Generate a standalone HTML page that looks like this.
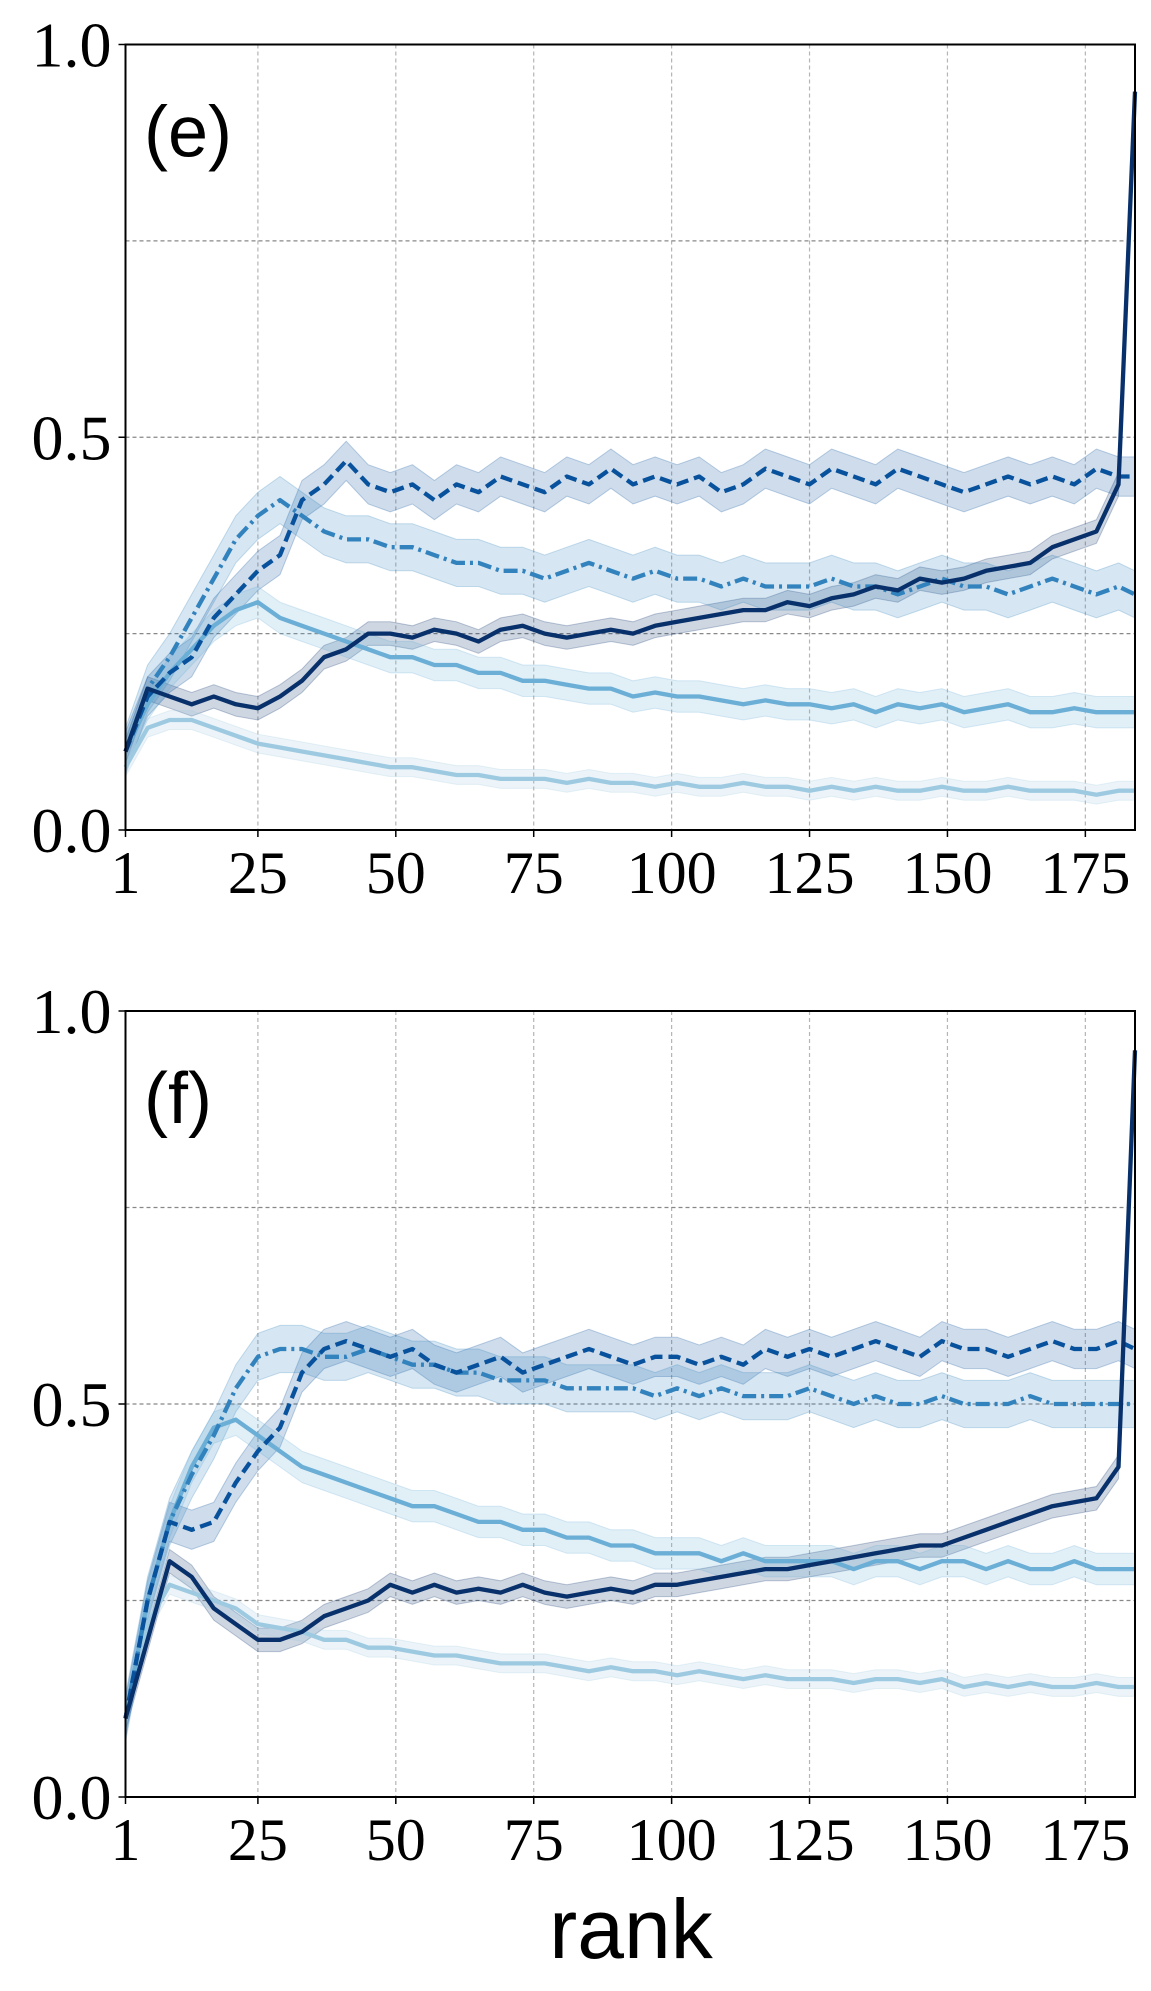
<!DOCTYPE html>
<html><head><meta charset="utf-8">
<style>
html,body{margin:0;padding:0;background:#fff;}
svg{display:block;}
</style></head>
<body>
<svg id="chart" width="1151" height="1991" viewBox="0 0 1151 1991" xmlns="http://www.w3.org/2000/svg"></svg>
<script>
const ranks = [1,5,9,13,17,21,25,29,33,37,41,45,49,53,57,61,65,69,73,77,81,85,89,93,97,101,105,109,113,117,121,125,129,133,137,141,145,149,153,157,161,165,169,173,177,181,184];
const xTicks = [1,25,50,75,100,125,150,175];
const yTicks = [0,0.5,1];
const yTickLabels = ["0.0","0.5","1.0"];
const yGrid = [0.25,0.5,0.75];

const eS1 = [0.10,0.18,0.17,0.16,0.17,0.16,0.155,0.17,0.19,0.22,0.23,0.25,0.25,0.245,0.255,0.25,0.24,0.255,0.26,0.25,0.245,0.25,0.255,0.25,0.26,0.265,0.27,0.275,0.28,0.28,0.29,0.285,0.295,0.30,0.31,0.305,0.32,0.315,0.32,0.33,0.335,0.34,0.36,0.37,0.38,0.44,0.94];
const eS2 = [0.10,0.17,0.20,0.22,0.27,0.30,0.33,0.35,0.42,0.44,0.47,0.44,0.43,0.44,0.42,0.44,0.43,0.45,0.44,0.43,0.45,0.44,0.46,0.44,0.45,0.44,0.45,0.43,0.44,0.46,0.45,0.44,0.46,0.45,0.44,0.46,0.45,0.44,0.43,0.44,0.45,0.44,0.45,0.44,0.46,0.45,0.45];
const eS3 = [0.10,0.18,0.22,0.27,0.32,0.37,0.40,0.42,0.40,0.38,0.37,0.37,0.36,0.36,0.35,0.34,0.34,0.33,0.33,0.32,0.33,0.34,0.33,0.32,0.33,0.32,0.32,0.31,0.32,0.31,0.31,0.31,0.32,0.31,0.31,0.30,0.31,0.32,0.31,0.31,0.30,0.31,0.32,0.31,0.30,0.31,0.30];
const eS4 = [0.10,0.16,0.20,0.23,0.26,0.28,0.29,0.27,0.26,0.25,0.24,0.23,0.22,0.22,0.21,0.21,0.20,0.20,0.19,0.19,0.185,0.18,0.18,0.17,0.175,0.17,0.17,0.165,0.16,0.165,0.16,0.16,0.155,0.16,0.15,0.16,0.155,0.16,0.15,0.155,0.16,0.15,0.15,0.155,0.15,0.15,0.15];
const eS5 = [0.08,0.13,0.14,0.14,0.13,0.12,0.11,0.105,0.10,0.095,0.09,0.085,0.08,0.08,0.075,0.07,0.07,0.065,0.065,0.065,0.06,0.065,0.06,0.06,0.055,0.06,0.055,0.055,0.06,0.055,0.055,0.05,0.055,0.05,0.055,0.05,0.05,0.055,0.05,0.05,0.055,0.05,0.05,0.05,0.045,0.05,0.05];

const fS1 = [0.10,0.20,0.30,0.28,0.24,0.22,0.20,0.20,0.21,0.23,0.24,0.25,0.27,0.26,0.27,0.26,0.265,0.26,0.27,0.26,0.255,0.26,0.265,0.26,0.27,0.27,0.275,0.28,0.285,0.29,0.29,0.295,0.30,0.305,0.31,0.315,0.32,0.32,0.33,0.34,0.35,0.36,0.37,0.375,0.38,0.42,0.95];
const fS2 = [0.10,0.25,0.35,0.34,0.35,0.40,0.44,0.47,0.54,0.57,0.58,0.57,0.56,0.57,0.55,0.54,0.55,0.56,0.54,0.55,0.56,0.57,0.56,0.55,0.56,0.56,0.55,0.56,0.55,0.57,0.56,0.57,0.56,0.57,0.58,0.57,0.56,0.58,0.57,0.57,0.56,0.57,0.58,0.57,0.57,0.58,0.57];
const fS3 = [0.10,0.25,0.35,0.41,0.46,0.52,0.56,0.57,0.57,0.56,0.56,0.57,0.56,0.55,0.55,0.54,0.54,0.53,0.53,0.53,0.52,0.52,0.52,0.52,0.51,0.52,0.51,0.52,0.51,0.51,0.51,0.52,0.51,0.50,0.51,0.50,0.50,0.51,0.50,0.50,0.50,0.51,0.50,0.50,0.50,0.50,0.50];
const fS4 = [0.10,0.25,0.35,0.42,0.47,0.48,0.46,0.44,0.42,0.41,0.40,0.39,0.38,0.37,0.37,0.36,0.35,0.35,0.34,0.34,0.33,0.33,0.32,0.32,0.31,0.31,0.31,0.30,0.31,0.30,0.30,0.30,0.30,0.29,0.30,0.30,0.29,0.30,0.30,0.29,0.30,0.29,0.29,0.30,0.29,0.29,0.29];
const fS5 = [0.10,0.22,0.27,0.26,0.25,0.24,0.22,0.215,0.21,0.20,0.20,0.19,0.19,0.185,0.18,0.18,0.175,0.17,0.17,0.17,0.165,0.16,0.165,0.16,0.16,0.155,0.16,0.155,0.15,0.155,0.15,0.15,0.15,0.145,0.15,0.15,0.145,0.15,0.14,0.145,0.14,0.145,0.14,0.14,0.145,0.14,0.14];

const spreads = [0.015,0.025,0.03,0.02,0.012];

const NS = "http://www.w3.org/2000/svg";
const svg = document.getElementById('chart');
const colors = ["#08306b","#08519c","#3182bd","#6baed6","#9ecae1"];
const dashes = [null,"12,6","14,5,3,5",null,null];
const L = 125.5, R = 1135;

function mk(tag, attrs, parent){
  const el = document.createElementNS(NS, tag);
  for (const k in attrs) el.setAttribute(k, attrs[k]);
  (parent||svg).appendChild(el);
  return el;
}

function drawPanel(top, bottom, series, label, key){
  const g = mk('g', {});
  
  
  const xs = r => L + (r - 1) / (184 - 1) * (R - L);
  const ys = v => bottom - v * (bottom - top);
  xTicks.slice(1).forEach(t => {
    const ln = mk('line', {x1: xs(t), x2: xs(t), y1: top, y2: bottom, stroke: '#b5b5b5', 'stroke-width': 1.2, 'stroke-dasharray': '4,3'}, g);
    
    
  });
  yGrid.forEach(t => {
    const ln = mk('line', {x1: L, x2: R, y1: ys(t), y2: ys(t), stroke: '#888', 'stroke-width': 1.2, 'stroke-dasharray': '4,3'}, g);
    
    
  });
  series.forEach((s, i) => {
    let d = '';
    s.forEach((v, j) => { d += (j ? 'L' : 'M') + xs(ranks[j]).toFixed(1) + ',' + ys(Math.min(1, v + spreads[i])).toFixed(1); });
    for (let j = s.length - 1; j >= 0; j--) d += 'L' + xs(ranks[j]).toFixed(1) + ',' + ys(Math.max(0, s[j] - spreads[i])).toFixed(1);
    const p = mk('path', {d: d + 'Z', fill: colors[i], 'fill-opacity': 0.2, stroke: colors[i], 'stroke-opacity': 0.25, 'stroke-width': 1}, g);
    
    
  });
  for (let i = series.length - 1; i >= 0; i--) {
    const s = series[i];
    let d = '';
    s.forEach((v, j) => { d += (j ? 'L' : 'M') + xs(ranks[j]).toFixed(1) + ',' + ys(v).toFixed(1); });
    const attrs = {d: d, fill: 'none', stroke: colors[i], 'stroke-width': 4.3, 'stroke-linejoin': 'round'};
    if (dashes[i]) attrs['stroke-dasharray'] = dashes[i];
    const p = mk('path', attrs, g);
    
    
  }
  const fr = mk('rect', {x: L, y: top, width: R - L, height: bottom - top, fill: 'none', stroke: '#000', 'stroke-width': 2}, g);
  
  
  xTicks.forEach(t => {
    mk('line', {x1: xs(t), x2: xs(t), y1: bottom, y2: bottom + 7, stroke: '#000', 'stroke-width': 1.5}, g);
    const tx = mk('text', {x: xs(t), y: bottom + 63, 'text-anchor': 'middle', 'font-family': 'Liberation Serif, serif', 'font-size': 60, fill: '#000'}, g);
    tx.textContent = t;
    
    
  });
  yTicks.forEach((t, i) => {
    mk('line', {x1: L - 7, x2: L, y1: ys(t), y2: ys(t), stroke: '#000', 'stroke-width': 1.5}, g);
    const tx = mk('text', {x: L - 14, y: ys(t) + 22, 'text-anchor': 'end', 'font-family': 'Liberation Serif, serif', 'font-size': 64, fill: '#000'}, g);
    tx.textContent = yTickLabels[i];
    
    
  });
  const lb = mk('text', {x: 144, y: top + 112, 'font-family': 'Liberation Sans, sans-serif', 'font-size': 72, fill: '#000'}, g);
  lb.textContent = label;
  
  
}

drawPanel(44.5, 830, [eS1, eS2, eS3, eS4, eS5], '(e)', 'e');
drawPanel(1011, 1797, [fS1, fS2, fS3, fS4, fS5], '(f)', 'f');

const xl = mk('text', {x: 631, y: 1958, 'text-anchor': 'middle', 'font-family': 'Liberation Sans, sans-serif', 'font-size': 84, fill: '#000'});
xl.textContent = 'rank';


</script>
</body></html>
